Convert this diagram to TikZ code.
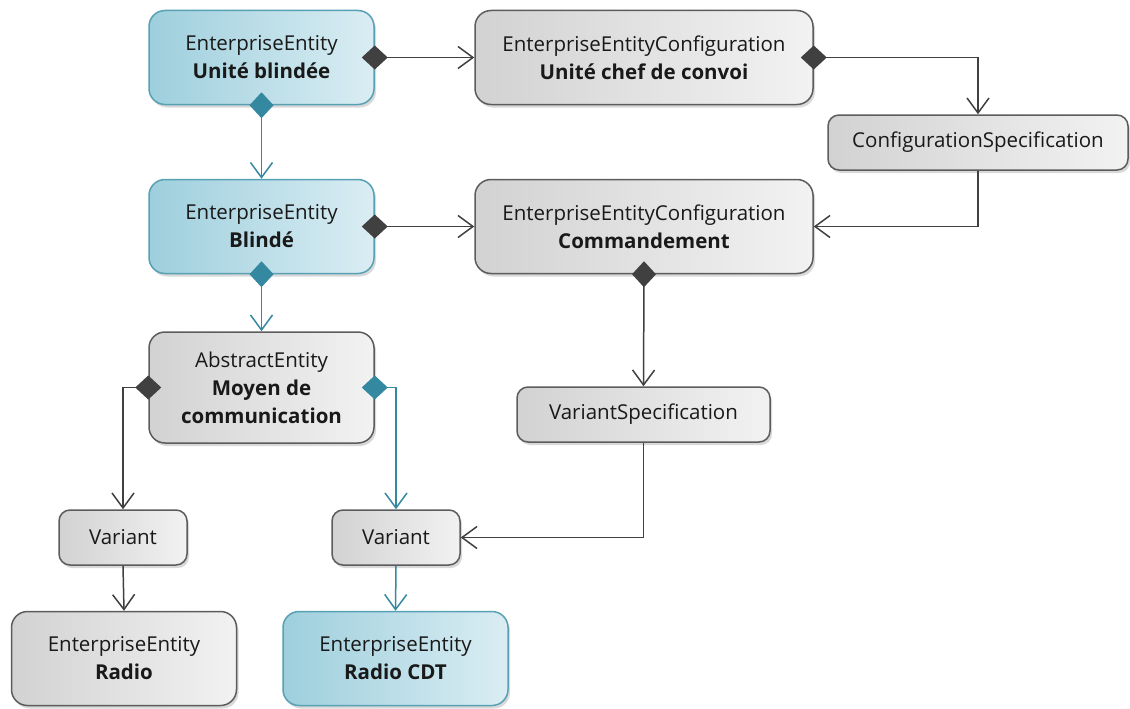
\documentclass[tikz,border=0pt]{standalone}
\usepackage{fontspec}
\setmainfont{Open Sans}
\usetikzlibrary{arrows.meta,shadows}
\definecolor{BlueL}{RGB}{158,207,221}
\definecolor{BlueR}{RGB}{218,237,243}
\definecolor{BlueEdge}{RGB}{88,160,180}
\definecolor{BlueLine}{RGB}{52,136,160}
\definecolor{GreyL}{RGB}{210,210,210}
\definecolor{GreyR}{RGB}{242,242,242}
\definecolor{GreyEdge}{RGB}{92,92,92}
\definecolor{Dark}{RGB}{64,64,64}
\definecolor{Ink}{RGB}{25,25,25}
\tikzset{
	box/.style={rounded corners=16pt, line width=1.5pt, align=center, inner sep=0pt,
		font=\fontsize{20.5}{28}\selectfont, text=Ink,
		drop shadow={shadow xshift=2pt,shadow yshift=-3pt,opacity=0.3}},
	entity/.style={box, draw=BlueEdge, left color=BlueL, right color=BlueR},
	other/.style={box, draw=GreyEdge, left color=GreyL, right color=GreyR},
	big/.style={minimum width=225pt, minimum height=94pt},
	small/.style={rounded corners=11pt, minimum height=55pt},
	assoc/.style={line width=1.5pt, draw=Dark, -{Straight Barb[length=15pt,width=22pt]}},
	comp/.style={assoc, {Diamond[length=26pt,width=24pt]}-{Straight Barb[length=15pt,width=22pt]}, shorten <=-13pt},
	owned/.style={draw=BlueLine}
}
\begin{document}
\begin{tikzpicture}[x=1pt,y=-1pt]
\useasboundingbox (0,0) rectangle (1130,709);
%% Entities and configurations
\node[entity,big] (ue) at (261.5,57.5) {EnterpriseEntity\\\textbf{Unité blindée}};
\node[other,big,minimum width=338pt] (ucc) at (644,57.5)
	{EnterpriseEntityConfiguration\\\textbf{Unité chef de convoi}};
\node[other,small,minimum width=300pt] (cspec) at (978,142.5) {ConfigurationSpecification};
\node[entity,big] (blinde) at (261.5,226.5) {EnterpriseEntity\\\textbf{Blindé}};
\node[other,big,minimum width=338pt] (cmd) at (644,226.5)
	{EnterpriseEntityConfiguration\\\textbf{Commandement}};
\node[other,big,minimum height=111pt] (moyen) at (261.5,387.5)
	{AbstractEntity\\\textbf{Moyen de}\\\textbf{communication}};
\node[other,small,minimum width=253pt] (vspec) at (643.5,414.5) {VariantSpecification};
%% Variants
\node[other,small,minimum width=128pt] (var1) at (123,537.5) {Variant};
\node[other,small,minimum width=128pt] (var2) at (396,537.5) {Variant};
\node[other,big] (radio) at (124,658.5) {EnterpriseEntity\\\textbf{Radio}};
\node[entity,big] (radiocdt) at (395.5,658.5) {EnterpriseEntity\\\textbf{Radio CDT}};
%% Links
\draw[comp] (ue.east) -- (ucc.west);
\draw[comp] (ucc.east) -| (cspec.north);
\draw[comp] (blinde.east) -- (cmd.west);
\draw[assoc] (cspec.south) |- (cmd.east);
\draw[comp] (cmd.south) -- (vspec.north);
\draw[comp] (moyen.west) -| (var1.north);
\draw[assoc] (vspec.south) |- (var2.east);
\draw[assoc] (var1.south) -- (radio.north);
%% Owned links
\draw[comp,owned] (ue.south) -- (blinde.north);
\draw[comp,owned] (blinde.south) -- (moyen.north);
\draw[comp,owned] (moyen.east) -| (var2.north);
\draw[assoc,owned] (var2.south) -- (radiocdt.north);
\end{tikzpicture}
\end{document}
